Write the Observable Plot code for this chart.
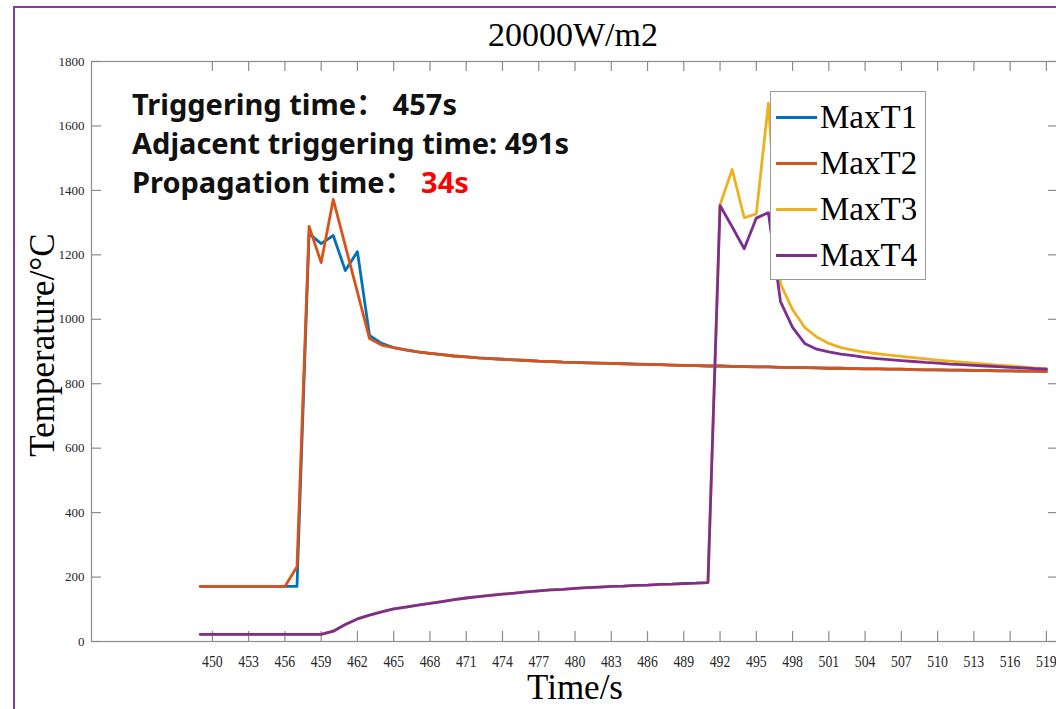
<!DOCTYPE html>
<html>
<head>
<meta charset="utf-8">
<script src="https://cdn.jsdelivr.net/npm/d3@7"></script>
<script src="https://cdn.jsdelivr.net/npm/@observablehq/plot@0.6"></script>
<style>
  html, body { margin: 0; padding: 0; background: #fff; overflow: hidden; }
  #wrap { position: relative; width: 1056px; height: 709px; overflow: hidden; background: #fff; }
  #wrap svg { position: absolute; left: 0; top: 0; max-width: none !important; }
  .ov { position: absolute; white-space: nowrap; }
  .serif { font-family: "Liberation Serif", "Times New Roman", serif; color: #000; }
  #border { left: 13px; top: 6px; width: 1100px; height: 760px;
            border-left: 2px solid #7b3f9e; border-top: 2px solid #7b3f9e; }
  #title { left: 573px; top: 15px; font-size: 34px; line-height: 40px; transform: translateX(-50%); }
  #ylabel { left: 43px; top: 345px; font-size: 35px; line-height: 40px;
            transform: translate(-50%, -50%) rotate(-90deg); }
  #xlabel { left: 575px; top: 668px; font-size: 35px; line-height: 40px; transform: translateX(-50%); }
  #notes { left: 132px; top: 84px; font-family: "Noto Sans", "Noto Sans CJK SC", sans-serif;
           font-weight: 700; font-size: 29px; line-height: 39px; color: #111; }
  #notes .hot { color: #ff0000; }
  #legend { left: 770px; top: 91px; width: 154px; height: 187px; background: #fff;
            border: 1px solid #9a9a9a; }
  #legend .sw { position: absolute; left: 5px; width: 41px; height: 3px; }
  #legend .lab { position: absolute; left: 49px; height: 46px; line-height: 46px; font-size: 33px; }
</style>
</head>
<body>
<div id="wrap"></div>
<script>
// Time steps (s) and the maximum temperature (°C) of each cell
const time = d3.range(449, 520);

const maxT1 = [
  171, 171, 171, 171, 171, 171, 171, 171,            // 449-456
  171, 1266, 1235, 1260, 1151, 1210, 950, 925,      // 457-464
  912, 905, 899, 894, 890, 886, 883, 880, 878, 876, // 465-474
  874, 872, 870, 869, 867, 866, 865, 864, 863, 862, // 475-484
  861, 860, 859, 858, 857, 856, 855, 855, 854, 853, // 485-494
  852, 852, 851, 850, 850, 849, 848, 848, 847, 846, // 495-504
  846, 845, 845, 844, 843, 843, 842, 842, 841, 841, // 505-514
  840, 840, 839, 839, 838                           // 515-519
];

const maxT2 = [
  171, 171, 171, 171, 171, 171, 171, 171,            // 449-456
  232, 1288, 1176, 1372, 1228, 1084, 940, 920,      // 457-464
  912, 905, 899, 894, 890, 886, 883, 880, 878, 876,
  874, 872, 870, 869, 867, 866, 865, 864, 863, 862,
  861, 860, 859, 858, 857, 856, 855, 855, 854, 853,
  852, 852, 851, 850, 850, 849, 848, 848, 847, 846,
  846, 845, 845, 844, 843, 843, 842, 842, 841, 841,
  840, 840, 839, 839, 838
];

const maxT3 = [
  22, 22, 22, 22, 22, 22, 22, 22, 22, 22, 22,         // 449-459
  32, 53, 70, 82, 92, 101, 107, 113, 118, 124,        // 460-469
  130, 135, 139, 143, 147, 150, 154, 157, 160, 162,   // 470-479
  165, 167, 169, 171, 172, 174, 175, 177, 178, 180,   // 480-489
  181, 183,                                           // 490-491
  1355, 1465, 1315, 1327, 1671, 1110, 1030, 975, 945, 925, // 492-501
  912, 904, 898, 893, 889, 885, 881, 877, 873, 870,   // 502-511
  867, 864, 861, 858, 855, 852, 849, 847              // 512-519
];

const maxT4 = [
  22, 22, 22, 22, 22, 22, 22, 22, 22, 22, 22,
  32, 53, 70, 82, 92, 101, 107, 113, 118, 124,
  130, 135, 139, 143, 147, 150, 154, 157, 160, 162,
  165, 167, 169, 171, 172, 174, 175, 177, 178, 180,
  181, 183,
  1353, 1287, 1219, 1314, 1331, 1055, 975, 925, 907, 899,
  892, 887, 882, 878, 875, 872, 869, 866, 864, 861,
  859, 857, 855, 853, 851, 849, 847, 845
];

const seriesNames = ["MaxT1", "MaxT2", "MaxT3", "MaxT4"];
const seriesColors = ["#0072BD", "#D95319", "#EDB120", "#7E2F8E"];
const seriesValues = [maxT1, maxT2, maxT3, maxT4];

const xTicks = d3.range(450, 520, 3);
const yTicks = d3.range(0, 1801, 200);

const triggerTime = 457;
const adjacentTime = 491;

// long table for the line mark
const rows = [];
seriesNames.forEach((name, k) => {
  seriesValues[k].forEach((v, i) => rows.push({series: name, t: time[i], v}));
});

const W = 1060, H = 709;
const mL = 91, mR = 2, mT = 61, mB = 68;
const frameW = W - mL - mR, frameH = H - mT - mB;
const tickLen = 10;
const axisGray = "#8c8c8c";

const chart = Plot.plot({
  width: W,
  height: H,
  marginLeft: mL,
  marginRight: mR,
  marginTop: mT,
  marginBottom: mB,
  style: {background: "transparent", color: "#262626", fontFamily: "Liberation Serif, serif", maxWidth: "none"},
  x: {domain: [440, 520], axis: null},
  y: {domain: [0, 1800], axis: null},
  color: {domain: seriesNames, range: seriesColors},
  marks: [
    Plot.frame({stroke: axisGray, strokeWidth: 1.2}),
    // inward ticks on all four sides
    Plot.tickX(xTicks, {x: d => d, insetTop: frameH - tickLen, stroke: axisGray, strokeWidth: 1.2}),
    Plot.tickX(xTicks, {x: d => d, insetBottom: frameH - tickLen, stroke: axisGray, strokeWidth: 1.2}),
    Plot.tickY(yTicks, {y: d => d, insetRight: frameW - tickLen, stroke: axisGray, strokeWidth: 1.2}),
    Plot.tickY(yTicks, {y: d => d, insetLeft: frameW - tickLen, stroke: axisGray, strokeWidth: 1.2}),
    Plot.axisX(xTicks, {tickSize: 0, tickPadding: 14, fontSize: 16, label: null, fill: "#262626",
                        tickFormat: d => String(d)}),
    Plot.axisY(yTicks, {tickSize: 0, tickPadding: 7, fontSize: 13, label: null, fill: "#262626",
                        tickFormat: d => String(d)}),
    Plot.line(rows, {x: "t", y: "v", z: "series", stroke: "series", strokeWidth: 2.8,
                     strokeLinejoin: "round", strokeLinecap: "round"})
  ]
});

// narrow the time tick labels (condensed serif look)
chart.querySelectorAll('[aria-label="x-axis tick label"] text').forEach(t => {
  const tr = t.getAttribute("transform") || "";
  t.setAttribute("transform", tr + " scale(0.86,1)");
});

const wrap = document.getElementById("wrap");
wrap.appendChild(chart);

function overlay(id, cls, html) {
  const d = document.createElement("div");
  d.id = id;
  d.className = "ov " + cls;
  d.innerHTML = html;
  wrap.appendChild(d);
  return d;
}

overlay("border", "", "");
overlay("title", "serif", "20000W/m2");
overlay("ylabel", "serif", "Temperature/°C");
overlay("xlabel", "serif", "Time/s");
overlay("notes", "",
  `Triggering time： ${triggerTime}s<br>` +
  `Adjacent triggering time: ${adjacentTime}s<br>` +
  `Propagation time： <span class="hot">${adjacentTime - triggerTime}s</span>`);

const legend = overlay("legend", "serif", "");
seriesNames.forEach((name, i) => {
  const cy = 25 + 46 * i;
  const sw = document.createElement("div");
  sw.className = "sw";
  sw.style.top = (cy - 1.5) + "px";
  sw.style.background = seriesColors[i];
  legend.appendChild(sw);
  const lab = document.createElement("div");
  lab.className = "lab";
  lab.style.top = (cy - 23) + "px";
  lab.textContent = name;
  legend.appendChild(lab);
});
</script>
</body>
</html>
